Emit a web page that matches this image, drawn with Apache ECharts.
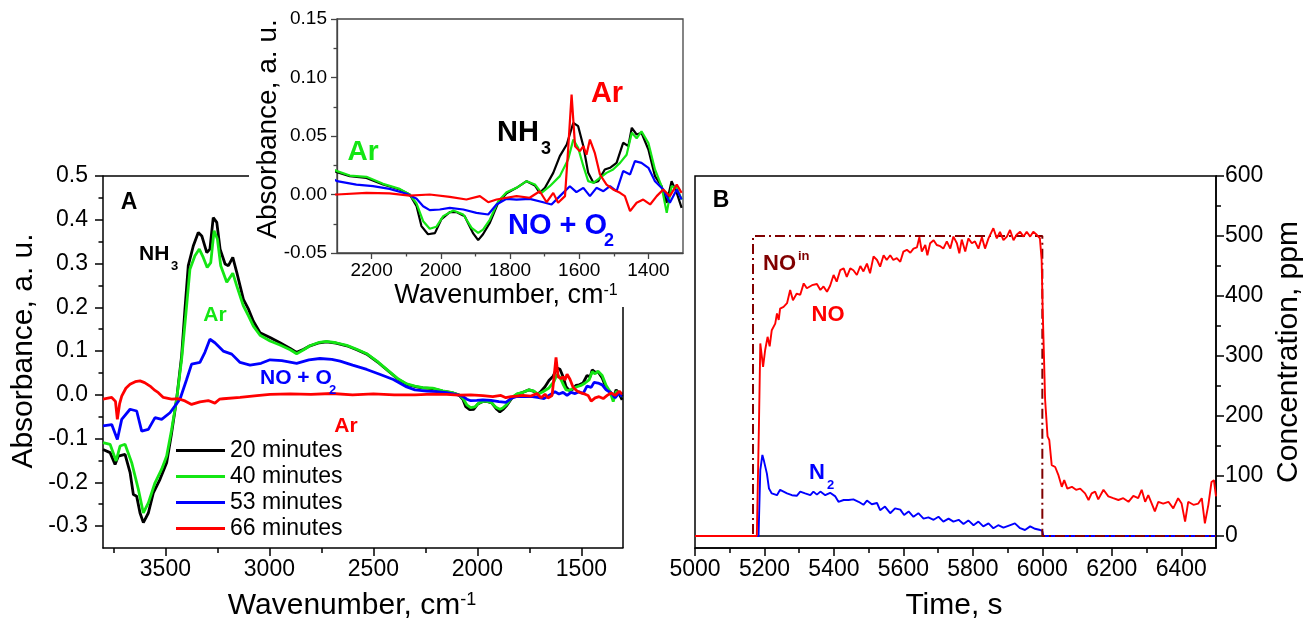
<!DOCTYPE html>
<html>
<head>
<meta charset="utf-8">
<script src="https://cdn.jsdelivr.net/npm/echarts@6/dist/echarts.min.js"></script>
<style>
html, body { margin: 0; padding: 0; background: #fff; }
#main { width: 1306px; height: 629px; }
</style>
</head>
<body>
<div id="main"></div>
<script>
// ---------- panel A / inset : IR spectra (wavenumber, absorbance) ----------
var wn20 = [3800,3766,3742,3726,3694,3670,3654,3638,3622,3606,3582,3558,3526,3494,3470,3446,3422,3406,3390,3366,3342,3325,3301,3286,3270,3253,3237,3213,3197,3176,3157,3125,3100,3077,3045,2997,2949,2900,2869,2835,2805,2760,2725,2680,2628,2580,2532,2480,2420,2380,2340,2300,2263,2215,2167,2119,2090,2070,2056,2037,2017,1998,1974,1955,1931,1907,1892,1878,1858,1834,1810,1781,1752,1728,1714,1699,1675,1656,1636,1617,1603,1588,1574,1559,1545,1526,1511,1492,1473,1458,1448,1434,1420,1400,1381,1362,1347,1333,1318,1304];
var ab20 = [-0.125,-0.132,-0.159,-0.140,-0.136,-0.177,-0.228,-0.232,-0.270,-0.292,-0.270,-0.224,-0.193,-0.155,-0.087,-0.010,0.089,0.196,0.295,0.340,0.371,0.363,0.325,0.333,0.405,0.394,0.333,0.299,0.295,0.314,0.280,0.218,0.195,0.168,0.142,0.131,0.119,0.106,0.097,0.104,0.112,0.119,0.121,0.118,0.112,0.103,0.093,0.075,0.051,0.035,0.024,0.019,0.0157,0.0142,0.0085,0.0043,0.000,-0.010,-0.027,-0.034,-0.033,-0.021,-0.015,-0.015,-0.0185,-0.033,-0.039,-0.034,-0.024,-0.007,0.001,0.0057,0.0114,0.0077,0.0014,0.0057,0.0185,0.0328,0.0427,0.0613,0.0584,0.0413,0.0185,0.010,0.0114,0.0214,0.0228,0.027,0.0442,0.0413,0.057,0.0513,0.0527,0.0385,0.0157,0.0071,-0.0071,0.0114,0.0014,-0.0114];

var wn40 = [3800,3766,3737,3718,3694,3662,3630,3606,3582,3550,3518,3494,3470,3446,3422,3401,3382,3358,3337,3318,3299,3282,3266,3250,3234,3205,3176,3157,3125,3100,3077,3045,2997,2949,2900,2869,2835,2805,2760,2725,2680,2628,2580,2532,2480,2420,2380,2340,2300,2263,2215,2167,2119,2090,2070,2051,2032,2013,1993,1964,1935,1911,1892,1878,1858,1834,1810,1781,1752,1728,1709,1685,1656,1632,1617,1603,1588,1574,1559,1540,1521,1502,1482,1463,1448,1434,1420,1400,1381,1362,1347,1333,1318,1304];
var ab40 = [-0.109,-0.113,-0.151,-0.117,-0.113,-0.155,-0.216,-0.270,-0.247,-0.201,-0.170,-0.140,-0.079,-0.010,0.081,0.188,0.287,0.318,0.333,0.314,0.291,0.302,0.375,0.356,0.295,0.257,0.278,0.249,0.203,0.180,0.157,0.136,0.123,0.114,0.103,0.094,0.103,0.112,0.120,0.122,0.119,0.113,0.104,0.094,0.076,0.052,0.036,0.025,0.020,0.0162,0.0151,0.0091,0.0048,0.000,-0.0077,-0.0228,-0.0293,-0.0276,-0.0185,-0.0137,-0.0171,-0.0285,-0.0328,-0.030,-0.0214,-0.0057,0.002,0.0057,0.0114,0.0085,0.0014,0.0071,0.0157,0.030,0.047,0.040,0.0242,0.0114,0.010,0.0142,0.0185,0.0214,0.027,0.034,0.0527,0.048,0.054,0.044,0.0214,0.0071,-0.0157,0.0071,0.0057,-0.0043];

var wn53 = [3800,3758,3731,3710,3670,3638,3614,3582,3550,3518,3478,3430,3398,3374,3334,3310,3286,3262,3222,3181,3141,3093,3040,2997,2940,2869,2810,2757,2700,2660,2600,2532,2470,2404,2340,2300,2244,2196,2148,2099,2070,2051,2032,2003,1974,1935,1897,1863,1839,1810,1781,1743,1704,1680,1656,1627,1608,1588,1569,1550,1530,1511,1492,1473,1453,1439,1420,1400,1381,1357,1338,1318,1304];
var ab53 = [-0.071,-0.068,-0.102,-0.056,-0.033,-0.037,-0.083,-0.079,-0.052,-0.056,-0.041,-0.010,0.035,0.070,0.074,0.097,0.127,0.119,0.100,0.093,0.074,0.068,0.072,0.080,0.078,0.072,0.080,0.083,0.081,0.077,0.068,0.058,0.047,0.035,0.018,0.0114,0.0085,0.0071,0.0048,0.0006,-0.0037,-0.010,-0.0134,-0.0128,-0.0114,-0.0128,-0.0157,-0.0171,-0.0085,-0.0037,-0.0043,-0.0037,-0.0066,-0.0085,-0.0014,0.0071,0.002,0.0057,-0.0014,0.0057,0.0028,0.0071,0.0028,0.020,0.0171,0.0285,0.027,0.0228,0.0114,0.0043,-0.0071,0.0043,-0.0043];

var wn66 = [3800,3758,3740,3731,3720,3710,3690,3670,3645,3622,3600,3574,3550,3534,3510,3470,3438,3406,3374,3334,3294,3262,3240,3222,3141,3060,2997,2900,2800,2700,2600,2500,2400,2300,2215,2148,2090,2032,1974,1926,1887,1863,1839,1810,1781,1743,1714,1694,1675,1661,1641,1632,1622,1612,1598,1588,1579,1569,1555,1540,1521,1502,1482,1468,1453,1434,1415,1395,1376,1357,1338,1318,1304];
var ab66 = [-0.010,-0.006,-0.015,-0.056,-0.020,-0.003,0.015,0.024,0.030,0.032,0.028,0.020,0.010,0.005,-0.006,-0.010,-0.009,-0.014,-0.022,-0.016,-0.013,-0.019,-0.010,-0.009,-0.006,-0.002,0.001,0.002,0.001,0.003,0.000,0.002,0.000,0.000,0.0014,0.0009,-0.0009,0.000,-0.002,-0.0043,-0.0014,-0.0066,-0.0043,-0.0028,-0.0014,-0.0028,0.0028,-0.0066,0.0014,-0.0071,-0.0014,0.0385,0.0855,0.0413,0.037,0.0413,0.034,0.047,0.0356,0.0171,0.0085,0.0043,0.0014,-0.0014,-0.0142,-0.0071,-0.0043,-0.0085,-0.0014,0.0043,-0.0014,0.0085,0.0014];

// ---------- panel B : concentration vs time ----------
var tIn = [5000,5167,5167,6000,6000,6500];
var cIn = [0,0,500,500,0,0];

var tNO = [5000,5178,5184,5188,5196,5202,5209,5215,5221,5231,5236,5241,5245,5255,5265,5274,5282,5293,5303,5313,5322,5337,5351,5361,5370,5380,5389,5399,5408,5418,5428,5437,5447,5456,5466,5476,5485,5495,5504,5514,5524,5533,5543,5552,5562,5571,5581,5591,5600,5610,5620,5629,5639,5646,5653,5663,5669,5677,5687,5696,5706,5715,5725,5735,5744,5754,5761,5768,5778,5787,5797,5806,5816,5826,5835,5845,5859,5869,5878,5888,5898,5907,5917,5926,5936,5946,5955,5965,5974,5984,5993,5998,6001,6005,6008,6015,6020,6027,6037,6046,6056,6063,6072,6085,6097,6109,6123,6133,6142,6152,6161,6176,6190,6204,6219,6233,6248,6262,6276,6286,6296,6305,6315,6324,6334,6348,6363,6377,6391,6401,6411,6420,6435,6449,6459,6468,6478,6487,6494,6500];
var cNO = [0,0,182,321,282,310,332,316,343,354,371,360,379,382,388,410,393,404,402,421,413,418,420,410,416,407,417,435,424,443,446,432,446,443,435,450,441,454,438,466,460,449,468,460,468,460,463,457,474,477,472,479,481,498,474,485,468,488,493,485,483,479,491,479,499,488,471,494,474,496,488,491,479,498,479,496,513,496,507,493,499,510,493,502,507,499,507,499,507,502,496,460,377,293,227,166,160,118,115,102,82,93,79,82,77,79,71,60,71,74,61,77,66,63,60,63,57,67,63,77,57,68,54,41,57,54,57,46,63,54,24,57,52,54,63,21,52,90,93,66];

var tN2 = [5000,5080,5085,5090,5120,5125,5130,5183,5188,5194,5199,5207,5213,5221,5236,5245,5255,5265,5279,5293,5303,5317,5332,5341,5351,5361,5375,5389,5404,5413,5428,5442,5456,5471,5485,5495,5509,5524,5533,5547,5562,5576,5591,5602,5615,5629,5643,5658,5672,5687,5701,5715,5730,5744,5759,5773,5787,5802,5816,5830,5845,5859,5873,5888,5902,5921,5936,5950,5965,5979,5994,6000,6003,6500];
var cN2 = [0,0,2,0,0,2,0,0,110,135,124,104,79,71,68,77,74,71,68,67,74,71,68,74,69,74,68,72,66,57,60,60,61,57,52,59,53,55,43,49,38,46,44,35,41,32,38,29,31,27,32,24,29,24,27,20,26,18,24,16,21,13,18,14,17,21,13,10,16,12,10,8,0,0];

var tZero = [5000,6500];
var cZero = [0,0];

// ---------- tick values ----------
var aXMajor = [3500,3000,2500,2000,1500];
var aXMinor = [3750,3250,2750,2250,1750];
var aYMajor = [-0.3,-0.2,-0.1,0,0.1,0.2,0.3,0.4,0.5];
var aYMinor = [-0.25,-0.15,-0.05,0.05,0.15,0.25,0.35,0.45];
var iXMajor = [2200,2000,1800,1600,1400];
var iXMinor = [2100,1900,1700,1500];
var iYMajor = [-0.05,0,0.05,0.1,0.15];
var iYMinor = [-0.025,0.025,0.075,0.125];
var bXMajor = [5000,5200,5400,5600,5800,6000,6200,6400];
var bXMinor = [5100,5300,5500,5700,5900,6100,6300];
var bYMajor = [0,100,200,300,400,500,600];
var bYMinor = [50,150,250,350,450,550];

var FONT = '"Liberation Sans", Arial, sans-serif';
var GREEN = '#14e614';

function pairs(xs, ys) {
  return xs.map(function (x, i) { return [x, ys[i]]; });
}

// axis carrying the line, major ticks and labels
function majorAxis(grid, pos, min, max, inv, ticks, fmt, fs, len, margin, color, lw) {
  return {
    type: 'value', gridIndex: grid, position: pos, min: min, max: max, inverse: inv,
    axisLine: { show: true, onZero: false, lineStyle: { color: color, width: lw } },
    axisTick: { show: true, inside: false, length: len, customValues: ticks, lineStyle: { color: color, width: lw } },
    axisLabel: { show: true, customValues: ticks, formatter: fmt, margin: margin, fontSize: fs, fontFamily: FONT, color: '#000' },
    splitLine: { show: false }
  };
}
// second axis on same side, only the short ticks
function minorAxis(grid, pos, min, max, inv, ticks, len, color, lw) {
  return {
    type: 'value', gridIndex: grid, position: pos, min: min, max: max, inverse: inv,
    axisLine: { show: false, onZero: false },
    axisTick: { show: true, inside: false, length: len, customValues: ticks, lineStyle: { color: color, width: lw } },
    axisLabel: { show: false },
    splitLine: { show: false }
  };
}

function f1(v) { return v.toFixed(1); }
function f2(v) { return v.toFixed(2); }
function f0(v) { return String(v); }

function line(name, data, xi, yi, color, w, z) {
  return {
    name: name, type: 'line', xAxisIndex: xi, yAxisIndex: yi, data: data,
    symbol: 'none', clip: true, z: z || 2,
    lineStyle: { color: color, width: w }, itemStyle: { color: color }
  };
}

function txt(x, y, s, size, color, bold, align, rot) {
  return {
    type: 'text', x: x, y: y, rotation: rot || 0, z: 100,
    style: {
      text: s, fill: color, fontSize: size, fontFamily: FONT,
      fontWeight: bold ? 'bold' : 'normal',
      align: align || 'center', verticalAlign: 'middle'
    }
  };
}
function supTxt(x, y, main, sup, size, supSize, rot) {
  return {
    type: 'text', x: x, y: y, rotation: rot || 0, z: 100,
    style: {
      text: main + '{s|' + sup + '}', fill: '#000', fontSize: size, fontFamily: FONT,
      align: 'center', verticalAlign: 'middle',
      rich: { s: { fontSize: supSize, fontFamily: FONT, fill: '#000', verticalAlign: 'top' } }
    }
  };
}

var chart = echarts.init(document.getElementById('main'));

var option = {
  animation: false,
  backgroundColor: '#fff',
  grid: [
    { left: 103, top: 176, width: 520, height: 372, show: false },
    { left: 337, top: 19, width: 346, height: 234, show: true, borderColor: '#444', borderWidth: 1.3, backgroundColor: 'transparent' },
    { left: 695, top: 176, width: 521, height: 372, show: true, borderColor: '#000', borderWidth: 1.5, backgroundColor: 'transparent' }
  ],
  xAxis: [
    majorAxis(0, 'bottom', 1300, 3800, true, aXMajor, f0, 23, 8, 10, '#000', 1.5),
    minorAxis(0, 'bottom', 1300, 3800, true, aXMinor, 5, '#000', 1.5),
    majorAxis(1, 'bottom', 1300, 2300, true, iXMajor, f0, 19, 6, 8, '#444', 1.3),
    minorAxis(1, 'bottom', 1300, 2300, true, iXMinor, 3.5, '#444', 1.3),
    majorAxis(2, 'bottom', 5000, 6500, false, bXMajor, f0, 23, 8, 10, '#000', 1.5),
    minorAxis(2, 'bottom', 5000, 6500, false, bXMinor, 5, '#000', 1.5)
  ],
  yAxis: [
    majorAxis(0, 'left', -0.35, 0.5, false, aYMajor, f1, 23, 8, 15, '#000', 1.5),
    minorAxis(0, 'left', -0.35, 0.5, false, aYMinor, 4.5, '#000', 1.5),
    majorAxis(1, 'left', -0.05, 0.15, false, iYMajor, f2, 19, 6, 10, '#444', 1.3),
    minorAxis(1, 'left', -0.05, 0.15, false, iYMinor, 3.5, '#444', 1.3),
    majorAxis(2, 'right', -20, 600, false, bYMajor, f0, 23, 8, 9, '#000', 1.5),
    minorAxis(2, 'right', -20, 600, false, bYMinor, 5, '#000', 1.5)
  ],
  legend: {
    data: ['20 minutes', '40 minutes', '53 minutes', '66 minutes'],
    orient: 'vertical', left: 171, top: 434,
    icon: 'rect', itemWidth: 49, itemHeight: 3, itemGap: 3,
    textStyle: { fontSize: 23, fontFamily: FONT, color: '#000' },
    selectedMode: false
  },
  series: [
    line('20 minutes', pairs(wn20, ab20), 0, 0, '#000', 2.8),
    line('40 minutes', pairs(wn40, ab40), 0, 0, GREEN, 2.8),
    line('53 minutes', pairs(wn53, ab53), 0, 0, '#0000ff', 2.8),
    line('66 minutes', pairs(wn66, ab66), 0, 0, '#ff0000', 2.8),

    line('20 minutes', pairs(wn20, ab20), 2, 2, '#000', 2.2),
    line('40 minutes', pairs(wn40, ab40), 2, 2, GREEN, 2.2),
    line('53 minutes', pairs(wn53, ab53), 2, 2, '#0000ff', 2.2),
    line('66 minutes', pairs(wn66, ab66), 2, 2, '#ff0000', 2.2),

    line('zero', pairs(tZero, cZero), 4, 4, '#000', 1.3, 1),
    line('N2', pairs(tN2, cN2), 4, 4, '#0000ff', 1.9),
    {
      name: 'NO in', type: 'line', xAxisIndex: 4, yAxisIndex: 4, data: pairs(tIn, cIn),
      symbol: 'none', z: 3,
      lineStyle: { color: '#800000', width: 2, type: [10, 4, 2, 4] }
    },
    line('NO', pairs(tNO, cNO), 4, 4, '#ff0000', 1.9, 4)
  ],
  graphic: [
    // partial frame of panel A (the inset covers the rest)
    { type: 'line', z: 50, shape: { x1: 103, y1: 176, x2: 249, y2: 176 }, style: { stroke: '#000', lineWidth: 1.5 } },
    { type: 'line', z: 50, shape: { x1: 623, y1: 307, x2: 623, y2: 548 }, style: { stroke: '#000', lineWidth: 1.5 } },

    // axis titles
    txt(24, 351, 'Absorbance, a. u.', 30, '#000', false, 'center', Math.PI / 2),
    supTxt(352, 606, 'Wavenumber, cm', '-1', 30, 18),
    txt(268, 129, 'Absorbance, a. u.', 28, '#000', false, 'center', Math.PI / 2),
    supTxt(506, 296, 'Wavenumber, cm', '-1', 27, 16),
    txt(954, 606, 'Time, s', 30, '#000', false, 'center'),
    txt(1289, 352, 'Concentration, ppm', 30, '#000', false, 'center', Math.PI / 2),

    // panel A labels
    txt(129, 203, 'A', 23, '#000', true),
    txt(139, 254, 'NH', 21, '#000', true, 'left'),
    txt(171, 266, '3', 13, '#000', true, 'left'),
    txt(215, 315, 'Ar', 21, GREEN, true),
    txt(260, 378, 'NO + O', 21, '#0000ff', true, 'left'),
    txt(329, 390, '2', 13, '#0000ff', true, 'left'),
    txt(346, 426, 'Ar', 21, '#ff0000', true),

    // inset labels
    txt(363, 152, 'Ar', 28, GREEN, true),
    txt(497, 133, 'NH', 29, '#000', true, 'left'),
    txt(541, 149, '3', 18, '#000', true, 'left'),
    txt(607, 94, 'Ar', 29, '#ff0000', true),
    txt(508, 226, 'NO + O', 29, '#0000ff', true, 'left'),
    txt(604, 241, '2', 18, '#0000ff', true, 'left'),

    // panel B labels
    txt(721, 201, 'B', 23, '#000', true),
    txt(763, 264, 'NO', 22, '#800000', true, 'left'),
    txt(798, 256, 'in', 13, '#800000', true, 'left'),
    txt(828, 315, 'NO', 22, '#ff0000', true),
    txt(809, 473, 'N', 22, '#0000ff', true, 'left'),
    txt(827, 485, '2', 13, '#0000ff', true, 'left')
  ]
};

chart.setOption(option);
</script>
</body>
</html>
